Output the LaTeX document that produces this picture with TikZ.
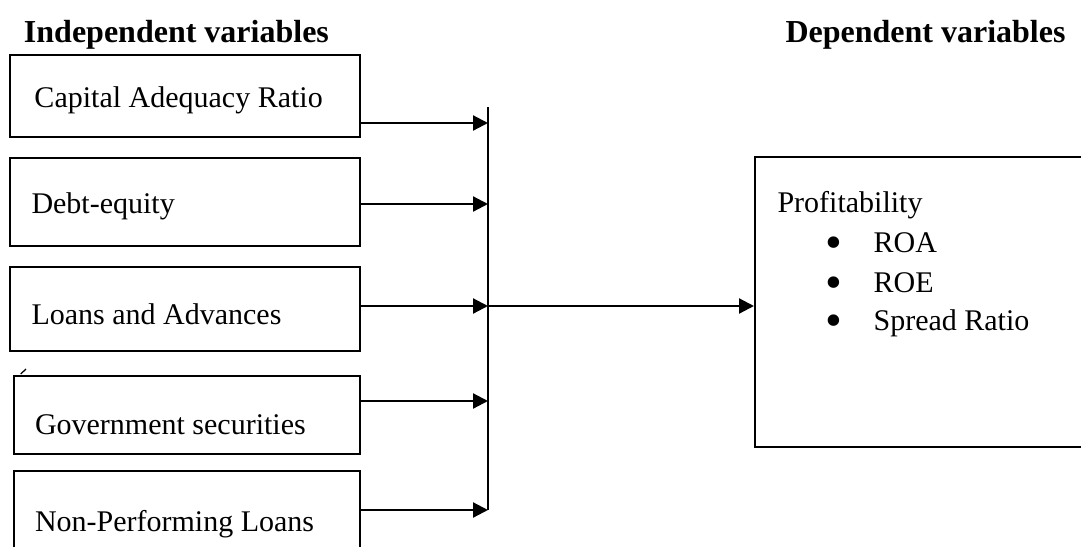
\documentclass[tikz,border=0pt]{standalone}
\usepackage{fontspec}
\usepackage{graphicx}
\setmainfont{Liberation Serif}
\usetikzlibrary{arrows.meta}

\newcommand{\bigbullet}{\makebox[19.4pt][l]{\smash{\raisebox{-2.6pt}{\scalebox{1.6}{\textbullet}}}}}

\begin{document}
\begin{tikzpicture}[x=0.4pt,y=-0.4pt,
        font=\fontsize{12pt}{14pt}\selectfont,
        box/.style={draw,line width=0.8pt,inner sep=0pt,minimum width=140.2pt},
        txt/.style={anchor=base west,inner sep=0pt},
        head/.style={txt,font=\fontsize{12.8pt}{14pt}\selectfont\bfseries},
        arr/.style={line width=0.9pt,-{Triangle[length=6pt,width=6pt]}}]
            % 画布
            \useasboundingbox (0,0) rectangle (1081,547);
            \clip (0,0) rectangle (1081,547);

            % 标题
            \node[head] (indep) at (23.5,42) {Independent variables};
            \node[head] (dep) at (785,42) {Dependent variables};

            % 左边的方框
            \node[box,minimum height=32.8pt] (car) at (185,96) {};
            \node[box,minimum height=35.2pt] (de) at (185,202) {};
            \node[box,minimum height=33.6pt] (la) at (185,309) {};
            \node[box,minimum height=31.2pt,minimum width=138.6pt] (gs) at (187,415) {};
            \node[box,minimum height=39.6pt,minimum width=138.6pt] (npl) at (187,520.5) {};

            % 方框里的文字
            \node[txt] (tcar) at (34,107) {Capital Adequacy Ratio};
            \node[txt] (tde) at (31,213) {Debt-equity};
            \node[txt] (tla) at (31,324) {Loans and Advances};
            \node[txt] (tgs) at (34.5,434) {Government securities};
            \node[txt] (tnpl) at (34.5,531) {Non-Performing Loans};

            % 小记号
            \draw[line width=0.5pt] (20.7,374) -- (26,369);

            % 右边的方框
            \node[box,minimum width=136pt,minimum height=116pt] (prof) at (925,302) {};
            \node[txt] (tprof) at (777,212) {Profitability};
            \node[txt] (roa) at (824.6,252) {\bigbullet ROA};
            \node[txt] (roe) at (824.6,292) {\bigbullet ROE};
            \node[txt] (spr) at (824.6,330) {\bigbullet Spread Ratio};

            % 竖线上的点
            \coordinate (top) at (488,107);
            \coordinate (h1) at (488,123);
            \coordinate (h2) at (488,204);
            \coordinate (h3) at (488,306);
            \coordinate (h4) at (488,401);
            \coordinate (h5) at (488,510);

            \draw[line width=0.9pt] (top) -- (h5);

            % 箭头
            \draw[arr] (car.east |- h1) -- (h1);
            \draw[arr] (de.east |- h2) -- (h2);
            \draw[arr] (la.east |- h3) -- (h3);
            \draw[arr] (gs.east |- h4) -- (h4);
            \draw[arr] (npl.east |- h5) -- (h5);
            \draw[arr] (h3) -- (prof.west |- h3);
\end{tikzpicture}
\end{document}
